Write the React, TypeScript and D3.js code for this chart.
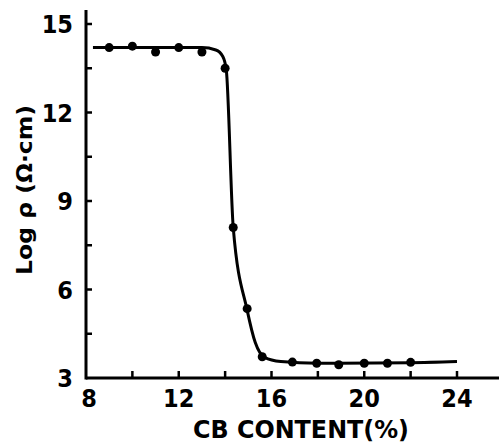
import React, { useEffect, useRef } from 'react';
import * as d3 from 'd3';

// measured points (CB content %, log resistivity)
const pointX = [9, 10, 11, 12, 13, 14, 14.35, 14.95, 15.6, 16.9, 17.95, 18.9, 20, 21, 22];
const pointY = [14.2, 14.25, 14.05, 14.2, 14.05, 13.5, 8.1, 5.35, 3.72, 3.54, 3.5, 3.45, 3.5, 3.5, 3.53];

// hand-drawn fit line through the points
const fitX = [8.3, 13.0, 13.6, 13.9, 14.05, 14.35, 14.95, 15.3, 15.7, 16.4, 18, 22, 24];
const fitY = [14.2, 14.2, 14.12, 13.9, 13.45, 8.1, 5.3, 4.2, 3.7, 3.56, 3.5, 3.52, 3.56];

const xTicks = [10, 12, 14, 16, 18, 20, 22, 24];
const xTickLabels = [8, 12, 16, 20, 24];
const yTicks = [4.5, 6, 7.5, 9, 10.5, 12, 13.5, 15];
const yTickLabels = [3, 6, 9, 12, 15];

const W = 499;
const H = 447;
const FONT = '"DejaVu Sans Condensed", "DejaVu Sans", sans-serif';

const App: React.FC = () => {
  const svgRef = useRef<SVGSVGElement>(null);

  useEffect(() => {
    if (!svgRef.current) return;
    const svg = d3.select(svgRef.current);
    svg.selectAll('*').remove();

    const x = d3.scaleLinear().domain([8, 24]).range([86, 457]);
    const y = d3.scaleLinear().domain([3, 15]).range([378, 24]);

    // axes
    svg.append('line').attr('x1', x(8)).attr('x2', W).attr('y1', y(3)).attr('y2', y(3))
      .attr('stroke', '#000').attr('stroke-width', 3);
    svg.append('line').attr('x1', x(8)).attr('x2', x(8)).attr('y1', 10).attr('y2', y(3) + 1.5)
      .attr('stroke', '#000').attr('stroke-width', 3);

    svg.append('g').selectAll('line').data(xTicks).enter().append('line')
      .attr('x1', d => x(d)).attr('x2', d => x(d)).attr('y1', y(3)).attr('y2', y(3) - 7)
      .attr('stroke', '#000').attr('stroke-width', 2.5);
    svg.append('g').selectAll('line').data(yTicks).enter().append('line')
      .attr('x1', x(8)).attr('x2', x(8) + 6).attr('y1', d => y(d)).attr('y2', d => y(d))
      .attr('stroke', '#000').attr('stroke-width', 2.5);

    svg.append('g').selectAll('text').data(xTickLabels).enter().append('text')
      .attr('x', d => x(d) + (d === 8 ? 3 : 0)).attr('y', 407)
      .attr('text-anchor', 'middle').attr('font-family', FONT).attr('font-weight', 'bold')
      .attr('font-size', 25).text(d => d);
    svg.append('g').selectAll('text').data(yTickLabels).enter().append('text')
      .attr('x', 73).attr('y', d => y(d) + 9)
      .attr('text-anchor', 'end').attr('font-family', FONT).attr('font-weight', 'bold')
      .attr('font-size', 25).text(d => d);

    // axis titles
    svg.append('text').attr('x', 301).attr('y', 438).attr('text-anchor', 'middle')
      .attr('font-family', FONT).attr('font-weight', 'bold').attr('font-size', 24)
      .attr('textLength', 216).attr('lengthAdjust', 'spacingAndGlyphs')
      .text('CB CONTENT(%)');
    svg.append('text').attr('transform', 'translate(32,190) rotate(-90)').attr('text-anchor', 'middle')
      .attr('font-family', FONT).attr('font-weight', 'bold').attr('font-size', 21)
      .attr('textLength', 170).attr('lengthAdjust', 'spacingAndGlyphs')
      .text('Log ρ (Ω·cm)');

    // fit curve
    const fit = fitX.map((v, i) => [v, fitY[i]] as [number, number]);
    const line = d3.line<[number, number]>().x(d => x(d[0])).y(d => y(d[1])).curve(d3.curveMonotoneX);
    svg.append('path').attr('d', line(fit) as string).attr('fill', 'none')
      .attr('stroke', '#000').attr('stroke-width', 3);

    // points
    const pts = pointX.map((v, i) => [v, pointY[i]] as [number, number]);
    svg.append('g').selectAll('circle').data(pts).enter().append('circle')
      .attr('cx', d => x(d[0])).attr('cy', d => y(d[1])).attr('r', 4.5).attr('fill', '#000');
  }, []);

  return (
    <div style={{ position: 'absolute', left: 0, top: 0, background: '#fff' }}>
      <svg ref={svgRef} width={W} height={H} style={{ display: 'block' }} />
    </div>
  );
};

export default App;
